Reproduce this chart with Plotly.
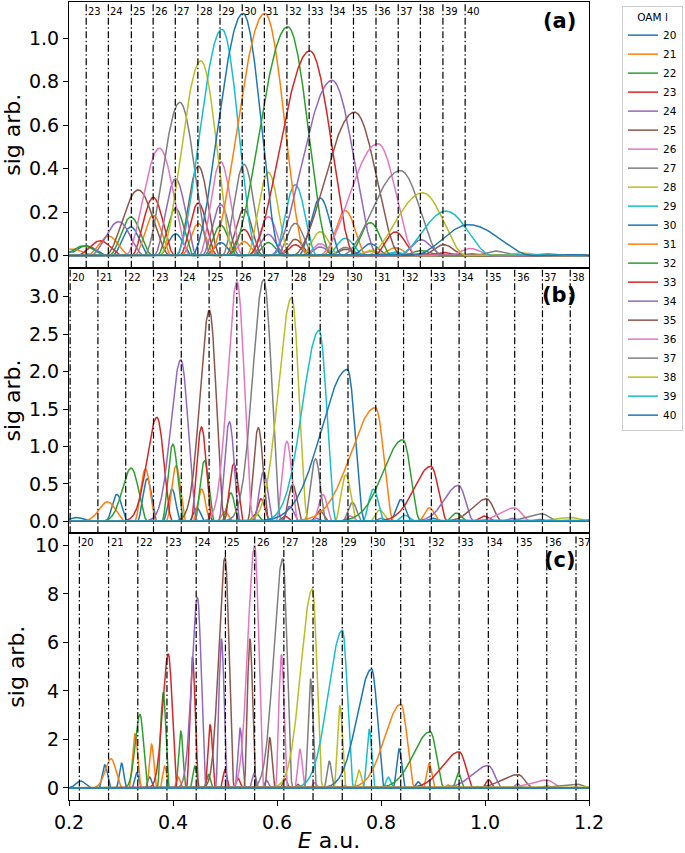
import numpy as np
import plotly.graph_objects as go
from plotly.subplots import make_subplots

# ---------------- data ----------------
OAM_L = list(range(20, 41))
PALETTE = ["#1f77b4", "#ff7f0e", "#2ca02c", "#d62728", "#9467bd",
           "#8c564b", "#e377c2", "#7f7f7f", "#bcbd22", "#17becf"]

X_TICKS = [0.2, 0.4, 0.6, 0.8, 1.0, 1.2]
X_TICK_TEXT = ["0.2", "0.4", "0.6", "0.8", "1.0", "1.2"]
Y_TICKS_A = [0.0, 0.2, 0.4, 0.6, 0.8, 1.0]
Y_TICK_TEXT_A = ["0.0", "0.2", "0.4", "0.6", "0.8", "1.0"]
Y_TICKS_B = [0.0, 0.5, 1.0, 1.5, 2.0, 2.5, 3.0]
Y_TICK_TEXT_B = ["0.0", "0.5", "1.0", "1.5", "2.0", "2.5", "3.0"]
Y_TICKS_C = [0, 2, 4, 6, 8, 10]
Y_TICK_TEXT_C = ["0", "2", "4", "6", "8", "10"]

# harmonic marker lines (dash-dot) and their labels
LINES_A = [0.2331, 0.2757, 0.3199, 0.3618, 0.4044, 0.4478, 0.4904, 0.5331, 0.5757,
           0.6191, 0.6618, 0.7044, 0.7471, 0.7904, 0.8331, 0.8757, 0.9191, 0.9618]
LABELS_A = [23, 24, 25, 26, 27, 28, 29, 30, 31, 32, 33, 34, 35, 36, 37, 38, 39, 40]
LINES_B = [0.2022, 0.2556, 0.3091, 0.3625, 0.4159, 0.4694, 0.5228, 0.5762, 0.6296, 0.6831,
           0.7365, 0.7899, 0.8434, 0.8968, 0.9502, 1.0037, 1.0571, 1.1105, 1.1639]
LABELS_B = [20, 21, 22, 23, 24, 25, 26, 27, 28, 29, 30, 31, 32, 33, 34, 35, 36, 37, 38]
LINES_C = [0.2199, 0.2761, 0.3323, 0.3884, 0.4446, 0.5008, 0.5570, 0.6132, 0.6693,
           0.7255, 0.7817, 0.8379, 0.8941, 0.9502, 1.0064, 1.0626, 1.1188, 1.1750]
LABELS_C = [20, 21, 22, 23, 24, 25, 26, 27, 28, 29, 30, 31, 32, 33, 34, 35, 36, 37]

# ---- panel (a): main peak and following lobes for l = 20..40 ----
A_MAIN_E = [0.190, 0.205, 0.228, 0.2596, 0.2955, 0.333, 0.374, 0.4132, 0.4537, 0.4941, 0.5346,
            0.5765, 0.6206, 0.6632, 0.7059, 0.7493, 0.7941, 0.8375, 0.8801, 0.925, 0.9695]
A_MAIN_H = [0.02, 0.03, 0.045, 0.068, 0.156, 0.302, 0.494, 0.705, 0.896, 1.041, 1.114,
            1.114, 1.053, 0.942, 0.806, 0.66, 0.515, 0.391, 0.289, 0.205, 0.142]
A_MAIN_WL = [0.045, 0.045, 0.045, 0.045, 0.055, 0.064, 0.066, 0.07, 0.08, 0.09, 0.10,
             0.11, 0.115, 0.12, 0.12, 0.12, 0.115, 0.115, 0.11, 0.095, 0.108]
A_MAIN_WR = [0.045, 0.045, 0.045, 0.045, 0.05, 0.062, 0.06, 0.062, 0.066, 0.07, 0.075,
             0.082, 0.085, 0.088, 0.09, 0.09, 0.075, 0.08, 0.085, 0.09, 0.124]
A_LOBE2_E = [0.233, 0.276, 0.319, 0.362, 0.405, 0.4487, 0.4917, 0.5365, 0.5833, 0.635, 0.6832,
             0.7313, 0.7794, 0.8275, 0.877, 0.9205, 0.972, 1.02, 1.07, 1.12, 1.17]
A_LOBE2_H = [0.045, 0.09, 0.177, 0.268, 0.353, 0.412, 0.432, 0.42, 0.383, 0.326, 0.265,
             0.2076, 0.152, 0.109, 0.073, 0.05, 0.033, 0.021, 0.013, 0.008, 0.005]
A_LOBE3_E = [0.319, 0.362, 0.405, 0.4487, 0.4917, 0.5365, 0.5833, 0.635, 0.6832, 0.7313, 0.7794,
             0.8275, 0.877, 0.9205, 0.972, 1.02, None, None, None, None, None]
A_LOBE3_H = [0.132, 0.186, 0.217, 0.242, 0.235, 0.212, 0.179, 0.148, 0.11, 0.08, 0.055,
             0.036, 0.023, 0.014, 0.009, 0.005, None, None, None, None, None]
A_LOBE4_E = [0.405, 0.4487, 0.4917, 0.5365, 0.5833, 0.635, 0.6832, 0.7313, 0.7794, 0.8275, 0.877,
             None, None, None, None, None, None, None, None, None, None]
A_LOBE4_H = [0.10, 0.147, 0.14, 0.12, 0.098, 0.075, 0.055, 0.038, 0.025, 0.016, 0.01,
             None, None, None, None, None, None, None, None, None, None]
A_LOBE5_E = [0.4917, 0.5365, 0.5833, 0.635, 0.6832, 0.7313, 0.7794, 0.8275, None, None, None,
             None, None, None, None, None, None, None, None, None, None]
A_LOBE5_H = [0.06, 0.065, 0.06, 0.05, 0.04, 0.03, 0.02, 0.013, None, None, None,
             None, None, None, None, None, None, None, None, None, None]
A_LOBE_W = [0.042, 0.036, 0.032, 0.030]

# ---- panel (b) ----
B_MAIN_E = [0.214, 0.274, 0.3195, 0.369, 0.415, 0.47, 0.523, 0.5744, 0.628, 0.681, 0.7355,
            0.7895, 0.842, 0.896, 0.949, 1.003, 1.056, 1.108, 1.166, 1.22, 1.275]
B_MAIN_H = [0.05, 0.26, 0.71, 1.39, 2.16, 2.82, 3.2, 3.23, 2.99, 2.55, 2.03,
            1.52, 1.09, 0.735, 0.48, 0.30, 0.18, 0.10, 0.052, 0.028, 0.014]
B_MAIN_WL = [0.012, 0.016, 0.017, 0.019, 0.019, 0.018, 0.018, 0.021, 0.025, 0.032, 0.05,
             0.047, 0.038, 0.032, 0.027, 0.027, 0.027, 0.027, 0.027, 0.027, 0.027]
B_MAIN_WR = [0.03, 0.035, 0.032, 0.03, 0.032, 0.03, 0.032, 0.034, 0.032, 0.033, 0.033,
             0.035, 0.034, 0.032, 0.03, 0.03, 0.032, 0.035, 0.035, 0.035, 0.035]
B_LOBE2_E = [0.292, 0.347, 0.3997, 0.4548, 0.5084, 0.564, 0.619, 0.674, 0.7325, 0.7855, 0.838,
             0.893, 0.945, 0.998, 1.052, 1.105, 1.158, None, None, None, None]
B_LOBE2_H = [0.36, 0.70, 1.03, 1.26, 1.33, 1.25, 1.07, 0.835, 0.62, 0.43, 0.29,
             0.18, 0.11, 0.07, 0.04, 0.025, 0.015, None, None, None, None]
B_LOBE3_E = [0.3505, 0.4059, 0.4606, 0.517, 0.574, 0.63, 0.688, 0.745, 0.7977, 0.846, 0.90,
             0.952, None, None, None, None, None, None, None, None, None]
B_LOBE3_H = [0.57, 0.745, 0.81, 0.77, 0.66, 0.49, 0.36, 0.25, 0.15, 0.08, 0.04,
             0.02, None, None, None, None, None, None, None, None, None]
B_LOBE4_E = [0.398, 0.455, 0.511, 0.569, 0.6246, 0.6826, 0.74, 0.80, None, None, None,
             None, None, None, None, None, None, None, None, None, None]
B_LOBE4_H = [0.43, 0.43, 0.38, 0.30, 0.20, 0.14, 0.07, 0.04, None, None, None,
             None, None, None, None, None, None, None, None, None, None]
B_LOBE5_E = [0.446, 0.50, 0.56, 0.615, 0.675, None, None, None, None, None, None,
             None, None, None, None, None, None, None, None, None, None]
B_LOBE5_H = [0.18, 0.13, 0.10, 0.07, 0.04, None, None, None, None, None, None,
             None, None, None, None, None, None, None, None, None, None]
B_LOBE_W = [0.021, 0.019, 0.017, 0.015]

# ---- panel (c) ----
C_MAIN_E = [0.2225, 0.2807, 0.3364, 0.391, 0.447, 0.50, 0.557, 0.611, 0.668, 0.7257, 0.782,
            0.8382, 0.8946, 0.9504, 1.0061, 1.063, 1.119, 1.175, 1.231, 1.287, 1.343]
C_MAIN_H = [0.28, 1.2, 3.03, 5.52, 7.85, 9.5, 10.0, 9.45, 8.2, 6.5, 4.9,
            3.45, 2.32, 1.49, 0.92, 0.55, 0.32, 0.16, 0.08, 0.04, 0.02]
C_MAIN_WL = [0.009, 0.011, 0.009, 0.011, 0.011, 0.012, 0.013, 0.017, 0.022, 0.027, 0.028,
             0.031, 0.032, 0.032, 0.03, 0.03, 0.03, 0.03, 0.03, 0.03, 0.03]
C_MAIN_WR = [0.02, 0.022, 0.016, 0.017, 0.017, 0.018, 0.018, 0.019, 0.02, 0.022, 0.025,
             0.027, 0.027, 0.028, 0.028, 0.03, 0.03, 0.03, 0.03, 0.03, 0.03]
C_LOBE2_E = [0.269, 0.327, 0.3812, 0.4375, 0.4932, 0.548, 0.6085, 0.6646, 0.721, 0.7774, 0.835,
             0.8927, 0.949, 1.0068, 1.062, 1.118, 1.175, 1.23, None, None, None]
C_LOBE2_H = [0.95, 2.23, 3.93, 5.4, 6.15, 6.15, 5.5, 4.48, 3.38, 2.41, 1.61,
             1.0, 0.61, 0.34, 0.17, 0.08, 0.04, 0.02, None, None, None]
C_LOBE3_E = [0.301, 0.3588, 0.415, 0.4714, 0.529, 0.586, 0.6441, 0.7005, 0.7575, 0.814, 0.8716,
             0.929, 0.985, 1.042, None, None, None, None, None, None, None]
C_LOBE3_H = [1.02, 1.8, 2.34, 2.6, 2.46, 2.07, 1.59, 1.1, 0.73, 0.44, 0.25,
             0.12, 0.06, 0.03, None, None, None, None, None, None, None]
C_LOBE4_E = [0.33, 0.384, 0.442, 0.50, 0.556, 0.615, 0.672, 0.73, 0.788, None, None,
             None, None, None, None, None, None, None, None, None, None]
C_LOBE4_H = [0.63, 0.9, 0.9, 0.75, 0.6, 0.4, 0.22, 0.1, 0.05, None, None,
             None, None, None, None, None, None, None, None, None, None]
C_LOBE5_E = [0.355, 0.41, 0.468, 0.525, 0.58, 0.64, 0.70, None, None, None, None,
             None, None, None, None, None, None, None, None, None, None]
C_LOBE5_H = [0.45, 0.45, 0.55, 0.4, 0.3, 0.15, 0.08, None, None, None, None,
             None, None, None, None, None, None, None, None, None, None]
C_LOBE_W = [0.0115, 0.010, 0.009, 0.0085]

# ---------------- curve construction ----------------
E_GRID = np.linspace(0.2, 1.2, 2501)


def half(d, w, shape):
    if shape == "cos":
        u = np.clip(np.abs(d) / w, 0.0, 1.0)
        return np.cos(0.5 * np.pi * u) ** 2
    return np.exp(-0.5 * (d / w) ** 2)


def lobe(c, h, wl, wr, left_shape="cos", right_shape="cos"):
    d = E_GRID - c
    return h * np.where(d < 0, half(d, wl, left_shape), half(d, wr, right_shape))


def spectrum(i, p):
    y = lobe(p["me"][i], p["mh"][i], p["mwl"][i], p["mwr"][i], p["left"], "cos")
    for es, hs, w in zip(p["le"], p["lh"], p["lw"]):
        if es[i] is None:
            continue
        y = np.maximum(y, lobe(es[i], hs[i], w, w))
    return y


PANELS = [
    dict(me=A_MAIN_E, mh=A_MAIN_H, mwl=A_MAIN_WL, mwr=A_MAIN_WR,
         le=[A_LOBE2_E, A_LOBE3_E, A_LOBE4_E, A_LOBE5_E],
         lh=[A_LOBE2_H, A_LOBE3_H, A_LOBE4_H, A_LOBE5_H], lw=A_LOBE_W, left="cos",
         lines=LINES_A, labels=LABELS_A, tag="(a)", yr=[-0.0555, 1.1665],
         tv=Y_TICKS_A, tt=Y_TICK_TEXT_A, tagy=0.929),
    dict(me=B_MAIN_E, mh=B_MAIN_H, mwl=B_MAIN_WL, mwr=B_MAIN_WR,
         le=[B_LOBE2_E, B_LOBE3_E, B_LOBE4_E, B_LOBE5_E],
         lh=[B_LOBE2_H, B_LOBE3_H, B_LOBE4_H, B_LOBE5_H], lw=B_LOBE_W, left="gauss",
         lines=LINES_B, labels=LABELS_B, tag="(b)", yr=[-0.161, 3.39],
         tv=Y_TICKS_B, tt=Y_TICK_TEXT_B, tagy=0.896),
    dict(me=C_MAIN_E, mh=C_MAIN_H, mwl=C_MAIN_WL, mwr=C_MAIN_WR,
         le=[C_LOBE2_E, C_LOBE3_E, C_LOBE4_E, C_LOBE5_E],
         lh=[C_LOBE2_H, C_LOBE3_H, C_LOBE4_H, C_LOBE5_H], lw=C_LOBE_W, left="gauss",
         lines=LINES_C, labels=LABELS_C, tag="(c)", yr=[-0.5, 10.5],
         tv=Y_TICKS_C, tt=Y_TICK_TEXT_C, tagy=0.90),
]

FONT = "DejaVu Sans"
fig = make_subplots(rows=3, cols=1, shared_xaxes=True, vertical_spacing=0)

for r, p in enumerate(PANELS, start=1):
    for i, l in enumerate(OAM_L):
        fig.add_trace(go.Scatter(x=E_GRID, y=spectrum(i, p), mode="lines", name=str(l),
                                 line=dict(color=PALETTE[i % 10], width=1.5),
                                 showlegend=(r == 1), hoverinfo="skip"),
                      row=r, col=1)
    ysuf = "" if r == 1 else str(r)
    for pos, lab in zip(p["lines"], p["labels"]):
        fig.add_vline(x=pos, row=r, col=1,
                      line=dict(color="black", width=1.2, dash="7px,2.5px,1.5px,2.5px"))
        fig.add_annotation(x=pos, y=1, xref="x" + ysuf, yref="y" + ysuf + " domain",
                           text=str(lab), showarrow=False, xanchor="left", yanchor="top",
                           xshift=0, yshift=-2, font=dict(family=FONT, size=10, color="black"))
    fig.add_annotation(x=0.978, y=p["tagy"], xref="x" + ysuf + " domain", yref="y" + ysuf + " domain",
                       text="<b>" + p["tag"] + "</b>", showarrow=False, xanchor="right",
                       yanchor="middle", font=dict(family=FONT, size=21, color="black"))
    fig.update_yaxes(row=r, col=1, range=p["yr"], tickvals=p["tv"], ticktext=p["tt"],
                     ticks="outside", ticklen=5, tickcolor="black",
                     tickfont=dict(family=FONT, size=19, color="black"),
                     title=dict(text="sig arb.", font=dict(family=FONT, size=22, color="black"),
                                standoff=4),
                     showline=True, linecolor="black", linewidth=1, mirror=True,
                     showgrid=False, zeroline=False)

fig.update_xaxes(range=[0.2, 1.2], showline=True, linecolor="black", linewidth=1, mirror=True,
                 showgrid=False, zeroline=False)
fig.update_xaxes(row=1, col=1, showticklabels=False, ticks="")
fig.update_xaxes(row=2, col=1, showticklabels=False, ticks="")
fig.update_xaxes(row=3, col=1, tickvals=X_TICKS, ticktext=X_TICK_TEXT, ticks="outside",
                 ticklen=5, tickcolor="black",
                 tickfont=dict(family=FONT, size=19, color="black"),
                 title=dict(text="<i>E</i> a.u.", font=dict(family=FONT, size=22, color="black"),
                            standoff=4))

fig.update_layout(
    width=685, height=853,
    margin=dict(l=69, r=96, t=1, b=50),
    paper_bgcolor="white", plot_bgcolor="white",
    font=dict(family=FONT, color="black"),
    yaxis=dict(domain=[0.6671, 1.0]),
    yaxis2=dict(domain=[0.3342, 0.6671]),
    yaxis3=dict(domain=[0.0, 0.3342]),
    legend=dict(x=1.0635, y=0.995, xanchor="left", yanchor="top",
                bordercolor="#cccccc", borderwidth=1, bgcolor="white",
                font=dict(family=FONT, size=10.5, color="black"),
                title=dict(text="OAM l", side="top center",
                           font=dict(family=FONT, size=10.5, color="black")),
                tracegroupgap=0, itemwidth=30),
)

fig.write_html("out.html",
               config={"displayModeBar": False},
               post_script="document.body.style.margin='0px';"
                           "document.documentElement.style.overflow='hidden';")
